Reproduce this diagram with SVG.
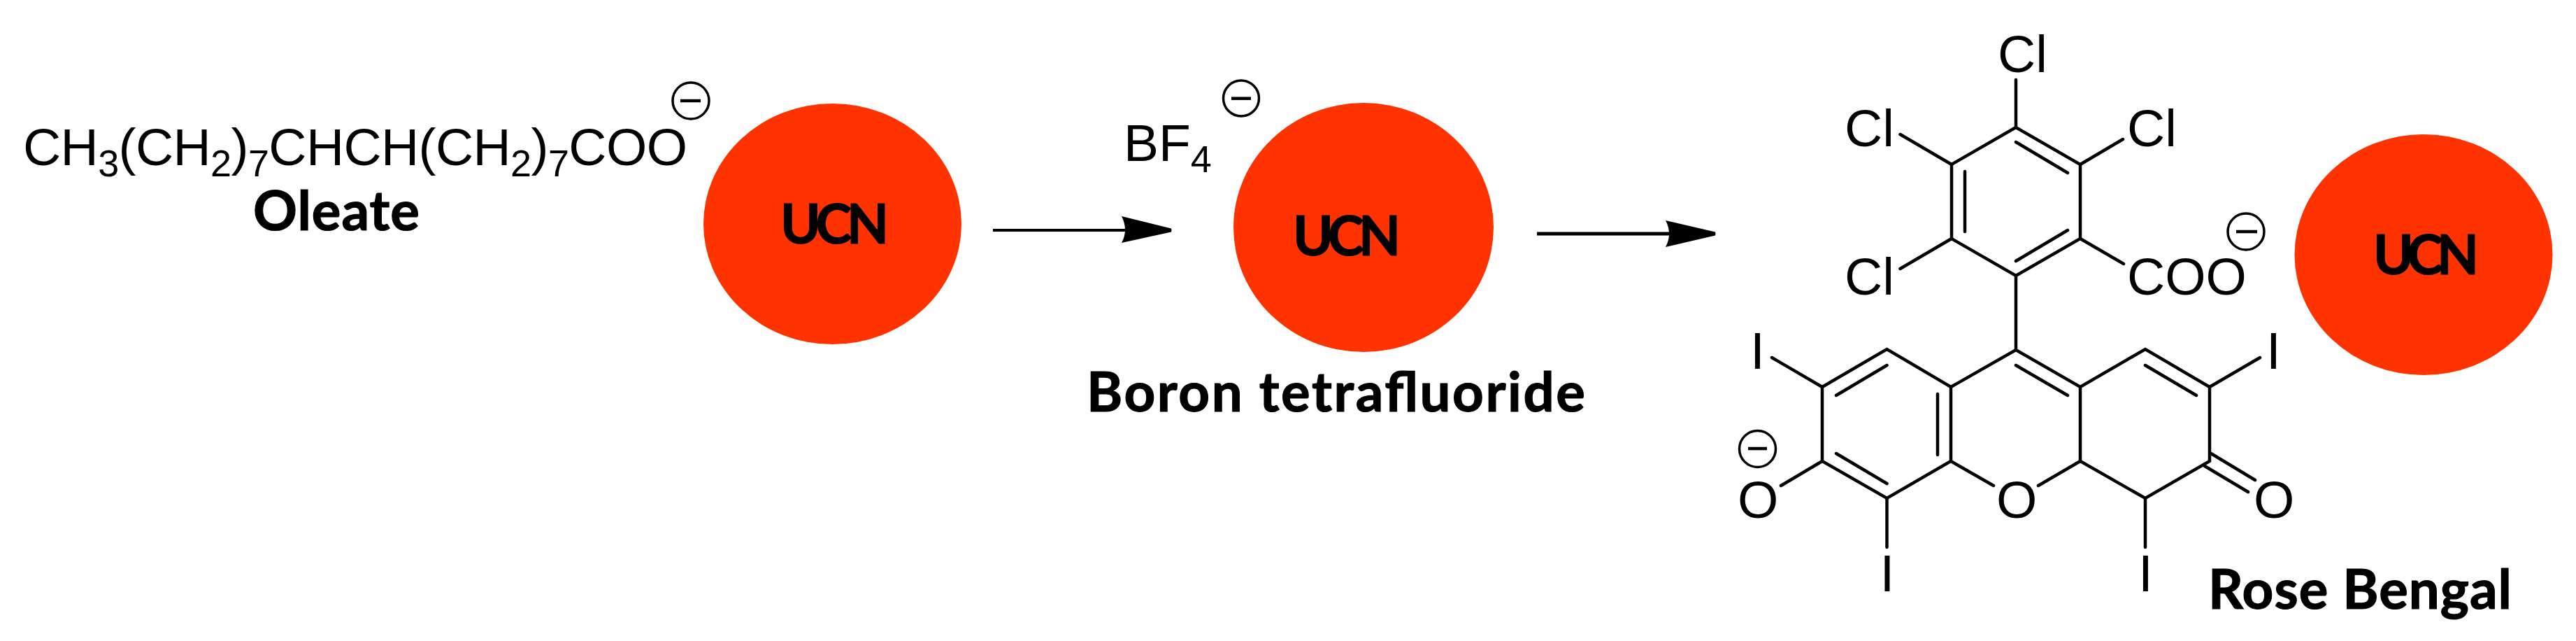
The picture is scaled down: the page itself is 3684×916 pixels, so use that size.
<svg xmlns="http://www.w3.org/2000/svg" width="3684" height="916" viewBox="0 0 3684 916">
<style>
.c{font-family:"Liberation Sans",Arial,sans-serif;font-size:75px;fill:#000}
.s{font-size:54px}
.b{font-family:Lato,"Open Sans",sans-serif;font-weight:700;font-size:78px;fill:#000;text-anchor:start;stroke:#000;stroke-width:1.2px}
.u{fill:#ff3300}
.bond{stroke:#000;stroke-width:4.5;fill:none;stroke-linecap:round}
.ch{fill:#fff;stroke:#000;stroke-width:3.5}
.mi{stroke:#000;stroke-width:4.5}
.ar{fill:#000}
</style>
<rect width="3684" height="916" fill="#fff"/>
<g id="oleate">
<text class="c" x="33" y="236" textLength="950" lengthAdjust="spacing">CH<tspan class="s" dy="16">3</tspan><tspan dy="-16">(CH</tspan><tspan class="s" dy="16">2</tspan><tspan dy="-16">)</tspan><tspan class="s" dy="16">7</tspan><tspan dy="-16">CHCH(CH</tspan><tspan class="s" dy="16">2</tspan><tspan dy="-16">)</tspan><tspan class="s" dy="16">7</tspan><tspan dy="-16">COO</tspan></text>
<circle class="ch" cx="988" cy="144" r="26"/><line class="mi" x1="973" y1="144" x2="1002" y2="144"/>
<text class="b" x="362" y="329" textLength="238">Oleate</text>
</g>
<g id="ucn1"><ellipse class="u" cx="1190.5" cy="320" rx="184.5" ry="172"/><text class="b" x="1116" y="348" textLength="155">UCN</text></g>
<g id="bf4">
<text class="c" x="1607" y="229.5">BF<tspan class="s" dy="16">4</tspan></text>
<circle class="ch" cx="1775" cy="140.5" r="25.5"/><line class="mi" x1="1761" y1="140.7" x2="1789" y2="140.7"/>
<text class="b" x="1554" y="588" textLength="713">Boron tetrafluoride</text>
</g>
<g id="ucn2"><ellipse class="u" cx="1950" cy="325" rx="186" ry="178"/><text class="b" x="1849" y="365" textLength="154">UCN</text></g>
<g id="ucn3"><ellipse class="u" cx="3466" cy="364" rx="184.5" ry="172"/><text class="b" x="3394" y="392" textLength="151">UCN</text></g>
<g id="connectors">
<line x1="1420" y1="329" x2="1615" y2="329" stroke="#000" stroke-width="4"/>
<path class="ar" d="M1604 309L1675 326.500Q1676 329 1675 331.500L1604 347Q1614 329 1604 309Z"/>
<line x1="2198" y1="334" x2="2392" y2="334" stroke="#000" stroke-width="5"/>
<path class="ar" d="M2382 315L2453 331.500Q2454 334 2453 336.500L2382 353Q2392 334 2382 315Z"/>
</g>
<g id="rose-bengal">
<path class="bond" d="M2883 182L2791 235L2791 341L2883 394L2975 341L2975 235Z"/>
<path class="bond" d="M2883 203L2957 247M2810 245L2810 331M2957 329L2883 373M2883 114L2883 182M2717.500 192L2791 235M3036 199L2975 235M2717.500 384L2791 341M2975 341L3037 377M2883 394L2883 500"/>
<path class="bond" d="M2606 553L2698.500 499L2790 553L2883 500L2975 553L3068 499L3160 553L3160 659L3068 712L2975 659L2975 553M2606 553L2606 659L2698.500 712L2790 659L2790 553"/>
<path class="bond" d="M2790 659L2851 694M2975 659L2915 694M2606 659L2547 694M3162 648L3225 686M3153 666L3215 703M2534 511L2606 553M3232 511L3160 553M2698.500 712L2698.500 782M3068 712L3068 782M2698.500 522L2626 565M2771 563L2771 650M2883 522L2957 565M3068 522L3141 565M2626 648L2698.500 691"/>
<text class="c" x="2857" y="103">Cl</text>
<text class="c" x="2638" y="209">Cl</text>
<text class="c" x="3042" y="209">Cl</text>
<text class="c" x="2638" y="421">Cl</text>
<text class="c" x="3042" y="421">COO</text>
<circle class="ch" cx="3212" cy="331" r="26"/><line class="mi" x1="3198" y1="331" x2="3228" y2="331"/>
<text class="c" x="2503" y="527">I</text>
<text class="c" x="3241" y="527">I</text>
<text class="c" x="2688.500" y="845">I</text>
<text class="c" x="3058" y="845">I</text>
<text class="c" x="2485" y="740">O</text>
<text class="c" x="2855" y="740">O</text>
<text class="c" x="3223" y="740">O</text>
<circle class="ch" cx="2513.500" cy="641.500" r="26"/><line class="mi" x1="2500" y1="641" x2="2527" y2="641"/>
<text class="b" x="3158" y="870" textLength="434">Rose Bengal</text>
</g>
</svg>
